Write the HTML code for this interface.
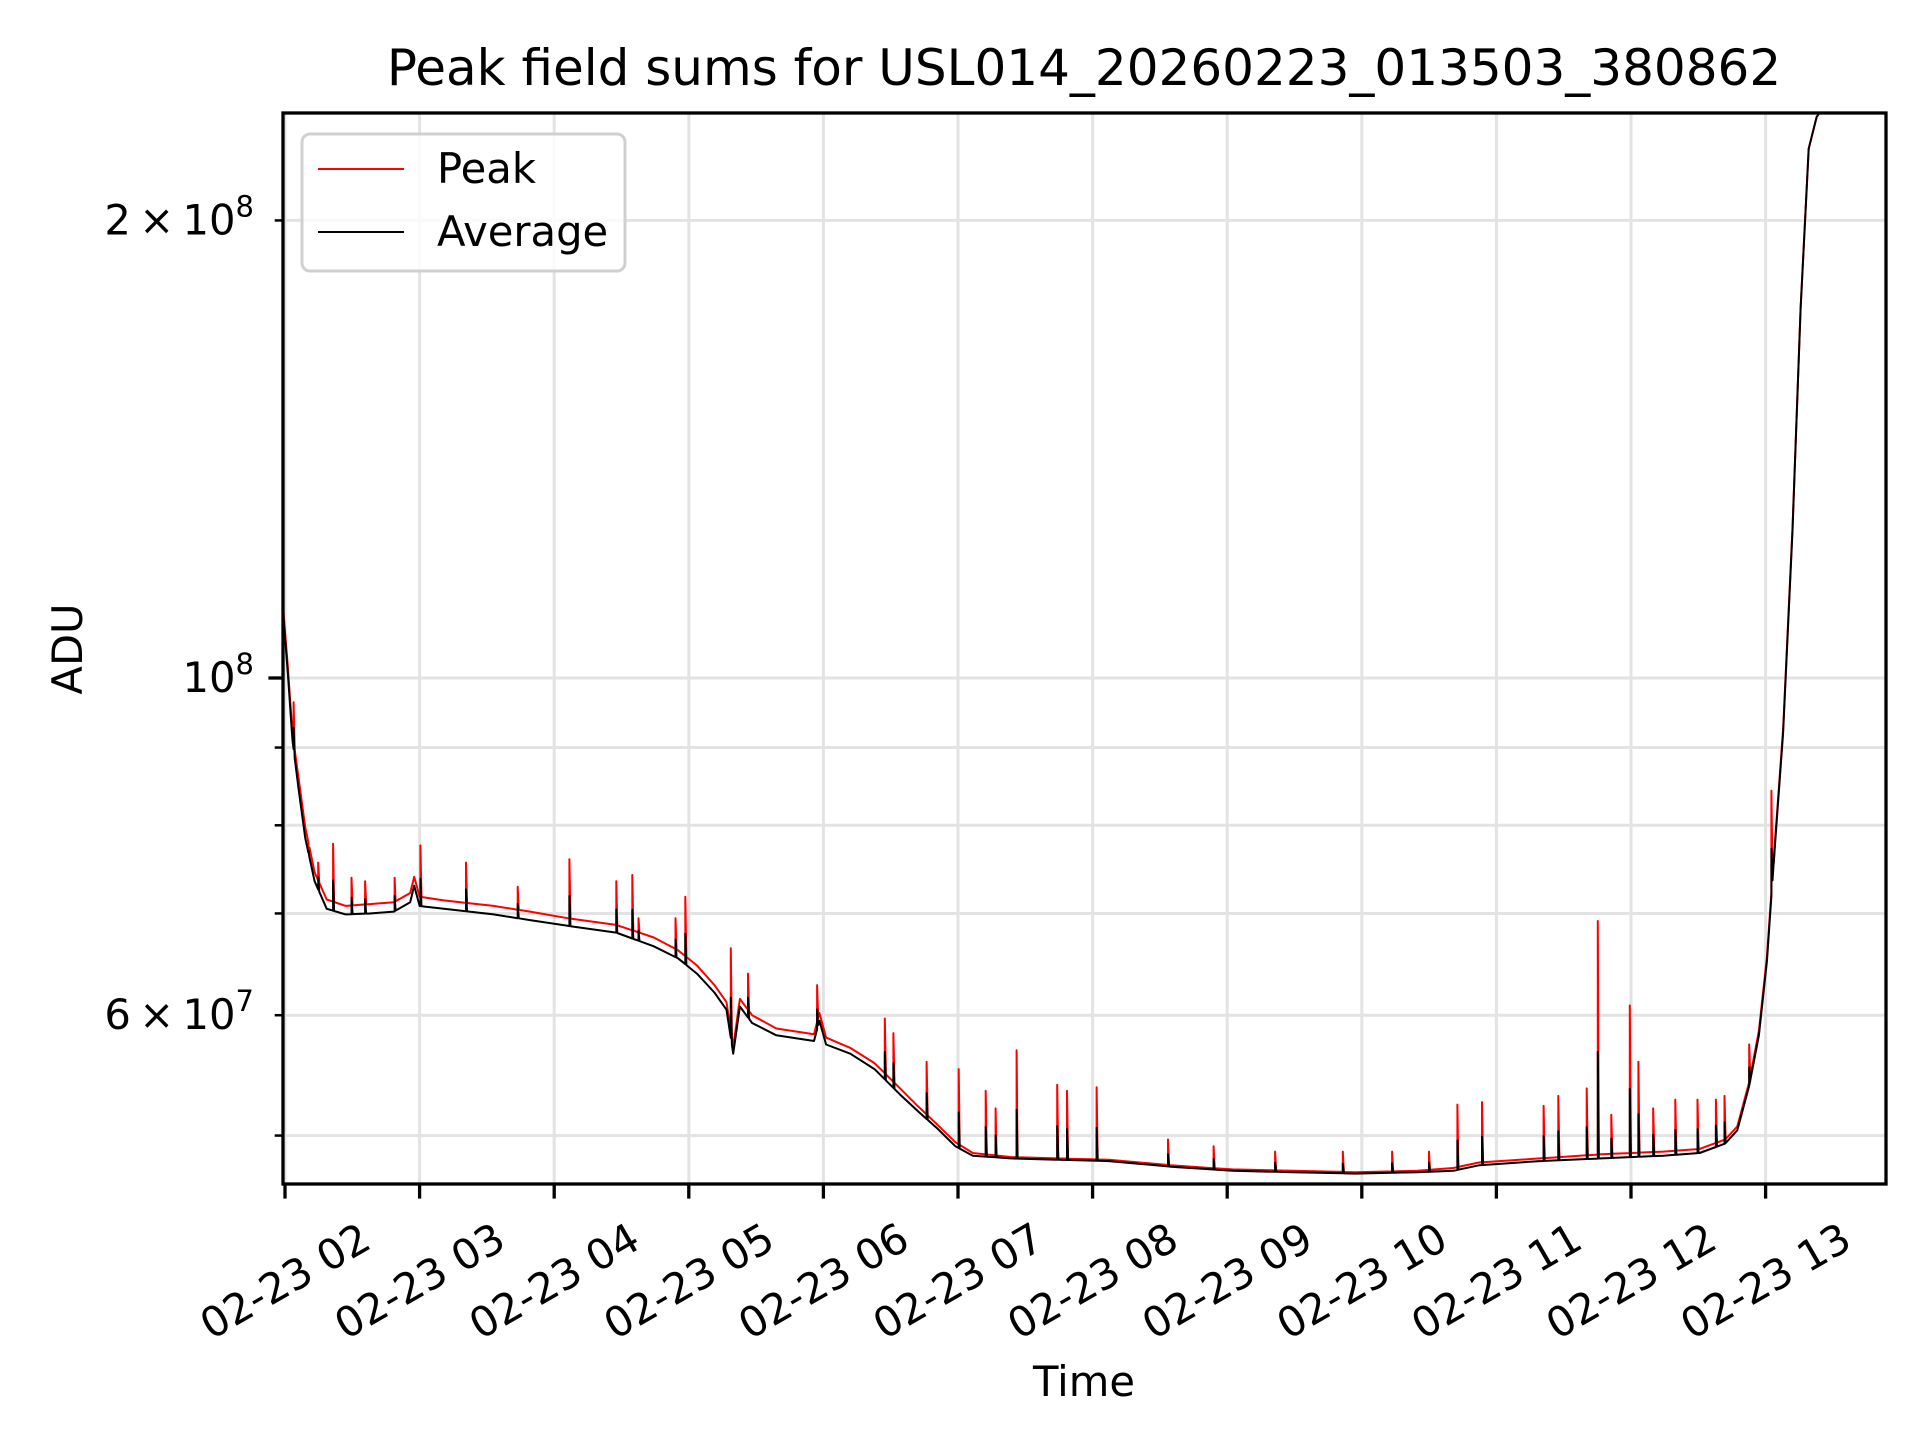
<!DOCTYPE html>
<html><head><meta charset="utf-8"><style>
html,body{margin:0;padding:0;background:#fff;}
svg{display:block;font-family:"DejaVu Sans","Liberation Sans",sans-serif;}
</style></head><body>
<svg id="chart" width="1920" height="1440" viewBox="0 0 1920 1440" xmlns="http://www.w3.org/2000/svg">
<defs><clipPath id="plotclip"><rect x="283" y="113" width="1603" height="1071"/></clipPath></defs>
<rect x="0" y="0" width="1920" height="1440" fill="#fff"/>
<g id="grid"></g>
<g id="series" clip-path="url(#plotclip)"></g>
<g id="axes"></g>
<text x="1084" y="85" font-size="50" text-anchor="middle">Peak field sums for USL014_20260223_013503_380862</text>
<text x="1084" y="1396" font-size="41.7" text-anchor="middle">Time</text>
<text x="82" y="649" font-size="41.7" text-anchor="middle" transform="rotate(-90 82 649)">ADU</text>
<g>
<rect x="302" y="134" width="323" height="137" rx="8" fill="#fff" fill-opacity="0.8" stroke="#d0d0d0" stroke-width="3"/>
<line x1="318" y1="169" x2="404" y2="169" stroke="#f00" stroke-width="2"/>
<text x="437" y="183" font-size="41.7">Peak</text>
<line x1="318" y1="232" x2="404" y2="232" stroke="#000" stroke-width="2"/>
<text x="437" y="246" font-size="41.7">Average</text>
</g>
</svg>
<script>
// hours after 02-23 02:00, values in units of 1e7 ADU
const avgTimes = [-0.02,0.02,0.055,0.1,0.15,0.22,0.31,0.45,0.63,0.81,0.93,0.96,1.0,1.18,1.55,1.82,2.1,2.46,2.74,2.92,3.06,3.19,3.28,3.33,3.38,3.47,3.65,3.93,3.97,4.02,4.2,4.38,4.57,4.7,4.84,4.98,5.11,5.39,5.75,6.12,6.58,7.04,7.49,7.95,8.41,8.68,8.87,9.32,9.78,10.24,10.51,10.7,10.79,10.88,10.95,11.01,11.06,11.13,11.2,11.26,11.32,11.38,11.47,11.9];
const avgValues = [11.2,10.1,9.11,8.46,7.85,7.35,7.05,6.99,7.0,7.02,7.12,7.3,7.08,7.05,6.99,6.93,6.87,6.8,6.66,6.54,6.39,6.21,6.05,5.66,6.08,5.93,5.82,5.77,5.95,5.74,5.66,5.53,5.32,5.19,5.06,4.92,4.85,4.83,4.82,4.81,4.77,4.74,4.73,4.72,4.73,4.74,4.78,4.81,4.83,4.85,4.87,4.94,5.04,5.4,5.82,6.51,7.56,9.2,12.5,17.5,22.3,23.4,24.0,24.5];
const peakValues = [11.3,10.2,9.2,8.6,7.98,7.45,7.15,7.08,7.1,7.12,7.22,7.4,7.18,7.14,7.08,7.02,6.95,6.88,6.75,6.62,6.47,6.28,6.12,5.72,6.15,6.0,5.88,5.83,6.02,5.8,5.71,5.58,5.37,5.23,5.09,4.95,4.87,4.84,4.83,4.82,4.78,4.75,4.74,4.73,4.74,4.76,4.8,4.83,4.86,4.88,4.9,4.97,5.07,5.43,5.86,6.55,7.6,9.25,12.55,17.5,22.3,23.4,24.0,24.5];
const spikeTimes = [0.064,0.174,0.247,0.357,0.494,0.595,0.814,1.006,1.345,1.729,2.113,2.461,2.580,2.626,2.901,2.974,3.312,3.440,3.953,4.456,4.520,4.767,5.005,5.206,5.279,5.435,5.737,5.810,6.030,6.560,6.899,7.356,7.859,8.225,8.499,8.710,8.893,9.351,9.460,9.671,9.753,9.854,9.991,10.055,10.165,10.329,10.494,10.631,10.695,10.878,11.043,11.061];
const spikeValues = [9.64,7.73,7.56,7.78,7.39,7.35,7.39,7.76,7.56,7.29,7.6,7.35,7.42,6.95,6.95,7.18,6.64,6.39,6.28,5.97,5.84,5.59,5.53,5.35,5.21,5.69,5.4,5.35,5.38,4.97,4.92,4.88,4.88,4.88,4.88,5.24,5.26,5.23,5.31,5.37,6.92,5.16,6.09,5.59,5.21,5.28,5.28,5.28,5.31,5.74,8.43,7.56];
const hourTicks = [0,1,2,3,4,5,6,7,8,9,10,11];
const hourLabels = ["02-23 02","02-23 03","02-23 04","02-23 05","02-23 06","02-23 07","02-23 08","02-23 09","02-23 10","02-23 11","02-23 12","02-23 13"];
const yMinorTicks = [5,6,7,8,9,20];
const yMajorTicks = [10];

const NS = "http://www.w3.org/2000/svg";
const L=283,R=1886,T=113,B=1184;
function xs(h){return 285 + h*134.6;}
function ys(v){return 678 - 1520*Math.log10(v/10);}
function mk(tag, attrs, parent){const e=document.createElementNS(NS,tag);for(const k in attrs)e.setAttribute(k,attrs[k]);parent.appendChild(e);return e;}
function interp(arr,t){for(let i=0;i<avgTimes.length-1;i++){if(t>=avgTimes[i]&&t<=avgTimes[i+1]){const f=(t-avgTimes[i])/(avgTimes[i+1]-avgTimes[i]);return Math.exp(Math.log(arr[i])*(1-f)+Math.log(arr[i+1])*f);}}return arr[arr.length-1];}

const grid=document.getElementById('grid'), series=document.getElementById('series'), axes=document.getElementById('axes');
hourTicks.forEach((h,i)=>{
  const g=mk('line',{x1:xs(h),x2:xs(h),y1:T,y2:B,stroke:'#e3e3e3','stroke-width':3},grid);
  
  
  const t=mk('line',{x1:xs(h),x2:xs(h),y1:B,y2:B+14.6,stroke:'#000','stroke-width':3.3},axes);
  
  
  const cx=xs(h), cy=1281;
  const lb=mk('text',{x:cx,y:cy,'font-size':41.7,'text-anchor':'middle','dominant-baseline':'central',transform:`rotate(-30 ${cx} ${cy})`},axes);
  lb.textContent=hourLabels[i];
  
  
});
yMinorTicks.concat(yMajorTicks).forEach(v=>{
  const major = yMajorTicks.includes(v);
  const g=mk('line',{x1:L,x2:R,y1:ys(v),y2:ys(v),stroke:'#e3e3e3','stroke-width':3},grid);
  
  
  const t=mk('line',{x1:L-(major?14.6:8.3),x2:L,y1:ys(v),y2:ys(v),stroke:'#000','stroke-width':major?3.3:2.5},axes);
  
  
});
function ylab(v, html){
  const t=mk('text',{x:L-29,y:ys(v)+14,'font-size':41.7,'text-anchor':'end'},axes);
  t.innerHTML=html;
  
  
}
ylab(20,'2\u2009×\u200910<tspan dy="-18" font-size="29">8</tspan>');
ylab(10,'10<tspan dy="-18" font-size="29">8</tspan>');
ylab(6,'6\u2009×\u200910<tspan dy="-18" font-size="29">7</tspan>');

const order=spikeTimes.map((t,i)=>i).sort((a,b)=>spikeTimes[a]-spikeTimes[b]);
function build(vals, frac){
  let pts=[], si=0;
  for(let i=0;i<avgTimes.length;i++){
    while(si<order.length && spikeTimes[order[si]]<avgTimes[i]){
      const t=spikeTimes[order[si]], b=interp(vals,t);
      const sv=Math.exp(Math.log(b)+frac*(Math.log(spikeValues[order[si]])-Math.log(b)));
      pts.push([xs(t),ys(b)],[xs(t),ys(sv)],[xs(t+0.008),ys(interp(vals,t+0.008))]);
      si++;
    }
    pts.push([xs(avgTimes[i]),ys(vals[i])]);
  }
  return pts.map(p=>p[0].toFixed(1)+','+p[1].toFixed(1)).join(' ');
}
const pk=mk('polyline',{points:build(peakValues,1),fill:'none',stroke:'#f00','stroke-width':2,'stroke-linejoin':'round'},series);


const av=mk('polyline',{points:build(avgValues,0.45),fill:'none',stroke:'#000','stroke-width':2,'stroke-linejoin':'round'},series);



const fr=mk('rect',{x:L,y:T,width:R-L,height:B-T,fill:'none',stroke:'#000','stroke-width':3.3},axes);


</script>
</body></html>
